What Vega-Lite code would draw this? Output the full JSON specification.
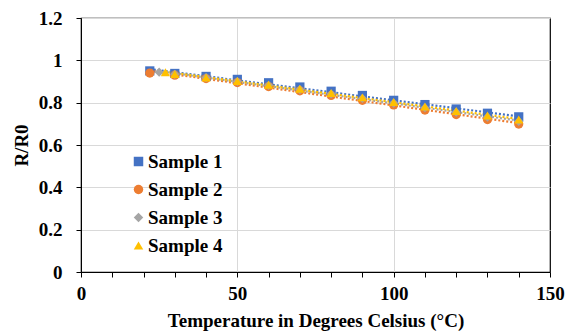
{
  "$schema": "https://vega.github.io/schema/vega-lite/v6.json",
  "width": 469,
  "height": 254,
  "autosize": {"type": "none"},
  "padding": {"left": 81, "top": 18, "right": 24, "bottom": 64},
  "background": "white",
  "config": {
    "view": {"stroke": "black", "strokeWidth": 1.2},
    "font": "Liberation Serif",
    "axis": {
      "labelFont": "Liberation Serif", "labelFontSize": 19, "labelFontWeight": "bold", "labelColor": "black",
      "titleFont": "Liberation Serif", "titleFontSize": 19, "titleFontWeight": "bold", "titleColor": "black",
      "domainColor": "black", "tickColor": "black", "gridColor": "#D9D9D9", "tickSize": 5
    },
    "legend": {
      "labelFont": "Liberation Serif", "labelFontSize": 19, "labelFontWeight": "bold", "labelColor": "black",
      "symbolSize": 90, "rowPadding": 8, "symbolStrokeWidth": 0, "labelOffset": 0
    }
  },
  "data": {
    "values": [
      {"sample": "Sample 1", "t": 22, "r": 0.950},
      {"sample": "Sample 1", "t": 30, "r": 0.938},
      {"sample": "Sample 1", "t": 40, "r": 0.924},
      {"sample": "Sample 1", "t": 50, "r": 0.910},
      {"sample": "Sample 1", "t": 60, "r": 0.894},
      {"sample": "Sample 1", "t": 70, "r": 0.874},
      {"sample": "Sample 1", "t": 80, "r": 0.854},
      {"sample": "Sample 1", "t": 90, "r": 0.834},
      {"sample": "Sample 1", "t": 100, "r": 0.811},
      {"sample": "Sample 1", "t": 110, "r": 0.791},
      {"sample": "Sample 1", "t": 120, "r": 0.770},
      {"sample": "Sample 1", "t": 130, "r": 0.750},
      {"sample": "Sample 1", "t": 140, "r": 0.733},
      {"sample": "Sample 2", "t": 22, "r": 0.940},
      {"sample": "Sample 2", "t": 30, "r": 0.930},
      {"sample": "Sample 2", "t": 40, "r": 0.914},
      {"sample": "Sample 2", "t": 50, "r": 0.895},
      {"sample": "Sample 2", "t": 60, "r": 0.876},
      {"sample": "Sample 2", "t": 70, "r": 0.856},
      {"sample": "Sample 2", "t": 80, "r": 0.834},
      {"sample": "Sample 2", "t": 90, "r": 0.811},
      {"sample": "Sample 2", "t": 100, "r": 0.789},
      {"sample": "Sample 2", "t": 110, "r": 0.765},
      {"sample": "Sample 2", "t": 120, "r": 0.744},
      {"sample": "Sample 2", "t": 130, "r": 0.720},
      {"sample": "Sample 2", "t": 140, "r": 0.699},
      {"sample": "Sample 3", "t": 25, "r": 0.944},
      {"sample": "Sample 3", "t": 30, "r": 0.934},
      {"sample": "Sample 3", "t": 40, "r": 0.918},
      {"sample": "Sample 3", "t": 50, "r": 0.900},
      {"sample": "Sample 3", "t": 60, "r": 0.882},
      {"sample": "Sample 3", "t": 70, "r": 0.862},
      {"sample": "Sample 3", "t": 80, "r": 0.841},
      {"sample": "Sample 3", "t": 90, "r": 0.820},
      {"sample": "Sample 3", "t": 100, "r": 0.798},
      {"sample": "Sample 3", "t": 110, "r": 0.776},
      {"sample": "Sample 3", "t": 120, "r": 0.755},
      {"sample": "Sample 3", "t": 130, "r": 0.732},
      {"sample": "Sample 3", "t": 140, "r": 0.712},
      {"sample": "Sample 4", "t": 27, "r": 0.944},
      {"sample": "Sample 4", "t": 30, "r": 0.935},
      {"sample": "Sample 4", "t": 40, "r": 0.919},
      {"sample": "Sample 4", "t": 50, "r": 0.902},
      {"sample": "Sample 4", "t": 60, "r": 0.885},
      {"sample": "Sample 4", "t": 70, "r": 0.866},
      {"sample": "Sample 4", "t": 80, "r": 0.846},
      {"sample": "Sample 4", "t": 90, "r": 0.825},
      {"sample": "Sample 4", "t": 100, "r": 0.803},
      {"sample": "Sample 4", "t": 110, "r": 0.782},
      {"sample": "Sample 4", "t": 120, "r": 0.761},
      {"sample": "Sample 4", "t": 130, "r": 0.739},
      {"sample": "Sample 4", "t": 140, "r": 0.720}
    ]
  },
  "encoding": {
    "x": {
      "field": "t", "type": "quantitative",
      "scale": {"domain": [0, 150], "nice": false},
      "axis": {
        "title": "Temperature in Degrees Celsius (°C)",
        "values": [0, 10, 20, 30, 40, 50, 60, 70, 80, 90, 100, 110, 120, 130, 140, 150],
        "labelExpr": "datum.value % 50 === 0 ? datum.label : ''",
        "gridOpacity": {"condition": {"test": "datum.value % 50 === 0 && datum.value > 0 && datum.value < 150", "value": 1}, "value": 0},
        "labelPadding": 7, "titlePadding": 8, "labelFlush": false
      }
    },
    "y": {
      "field": "r", "type": "quantitative",
      "scale": {"domain": [0, 1.2], "nice": false},
      "axis": {
        "title": "R/R0",
        "values": [0, 0.2, 0.4, 0.6, 0.8, 1, 1.2],
        "format": ".1~f",
        "labelPadding": 14, "titlePadding": 7
      }
    }
  },
  "layer": [
    {
      "transform": [{"filter": "datum.sample === 'Sample 1'"}, {"regression": "r", "on": "t"}],
      "mark": {"type": "line", "strokeDash": [2, 2], "strokeWidth": 2.2, "color": "#4472C4"},
      "encoding": {}
    },
    {
      "transform": [{"filter": "datum.sample === 'Sample 2'"}, {"regression": "r", "on": "t"}],
      "mark": {"type": "line", "strokeDash": [2, 2], "strokeWidth": 2.2, "color": "#ED7D31"},
      "encoding": {}
    },
    {
      "transform": [{"filter": "datum.sample === 'Sample 3'"}, {"regression": "r", "on": "t"}],
      "mark": {"type": "line", "strokeDash": [2, 2], "strokeWidth": 2.2, "color": "#A5A5A5"},
      "encoding": {}
    },
    {
      "transform": [{"filter": "datum.sample === 'Sample 4'"}, {"regression": "r", "on": "t"}],
      "mark": {"type": "line", "strokeDash": [2, 2], "strokeWidth": 2.2, "color": "#FFC000"},
      "encoding": {}
    },
    {
      "mark": {"type": "point", "filled": true, "opacity": 1, "size": 85},
      "encoding": {
        "color": {
          "field": "sample", "type": "nominal",
          "scale": {"domain": ["Sample 1", "Sample 2", "Sample 3", "Sample 4"], "range": ["#4472C4", "#ED7D31", "#A5A5A5", "#FFC000"]},
          "legend": {"title": null, "orient": "none", "legendX": 48, "legendY": 134}
        },
        "shape": {
          "field": "sample", "type": "nominal",
          "scale": {"domain": ["Sample 1", "Sample 2", "Sample 3", "Sample 4"], "range": ["square", "circle", "diamond", "triangle-up"]},
          "legend": {"title": null, "orient": "none", "legendX": 48, "legendY": 134}
        }
      }
    }
  ]
}
